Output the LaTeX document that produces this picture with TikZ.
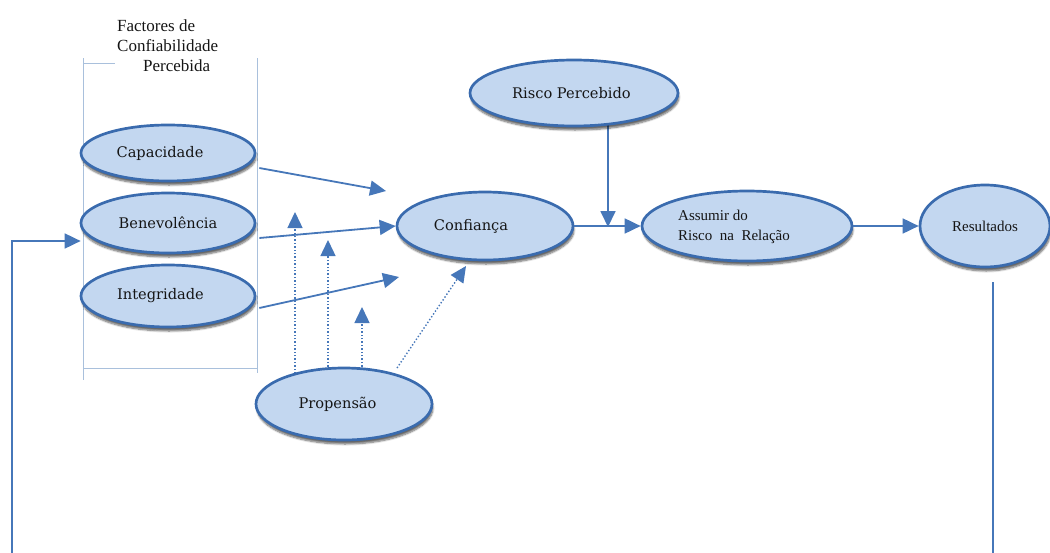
\documentclass[tikz,border=0pt]{standalone}
\usepackage{fontspec}
\setmainfont{Liberation Serif}
\newfontfamily\ellfont{DejaVu Serif}
\usetikzlibrary{arrows.meta,shapes.geometric,shadows.blur,calc,backgrounds}
\definecolor{ellfill}{HTML}{C3D7F0}
\definecolor{elldraw}{HTML}{3A6BAE}
\definecolor{linkblue}{HTML}{4677B9}
\definecolor{framebl}{HTML}{A9C0DC}
\definecolor{ink}{HTML}{151515}

\begin{document}
\begin{tikzpicture}[x=1pt,y=-1pt,
  ell/.style={ellipse, draw=elldraw, line width=2.7pt, fill=ellfill, inner sep=0pt,
    text=ink, font=\ellfont\fontsize{14.6}{17}\selectfont,
    blur shadow={shadow xshift=1pt, shadow yshift=-4pt, shadow opacity=60, shadow blur steps=7}},
  smallell/.style={ell, font=\fontsize{15}{20}\selectfont},
  link/.style={draw=linkblue, line width=1.8pt, -{Triangle[length=16pt,width=15pt]}},
  plainlink/.style={draw=linkblue, line width=1.8pt},
  dotlink/.style={draw=linkblue, line width=1.4pt, dotted, -{Triangle[length=16pt,width=15pt]}},
  frameline/.style={draw=framebl, line width=0.8pt},
  caption/.style={anchor=base west, inner sep=0pt, text=ink, font=\fontsize{17}{20}\selectfont}]

\useasboundingbox (0,0) rectangle (1050,552);
\clip (0,0) rectangle (1050,552);

% heading over the group of perceived trustworthiness factors
\node[caption] (h1) at (117,31) {Factores de};
\node[caption] (h2) at (117,51) {Confiabilidade};
\node[caption] (h3) at (143,71) {Percebida};

% bracket framing the three factors
\draw[frameline] (83,58) -- (83,380);
\draw[frameline] (257,58) -- (257,373);
\draw[frameline] (83,63) -- (115,63);
\draw[frameline] (83,368) -- (257,368);

% constructs
\node[ell, minimum width=174pt, minimum height=56pt] (cap) at (168,153) {\hspace*{-16pt}Capacidade};
\node[ell, minimum width=174pt, minimum height=60pt] (ben) at (168,223) {Benevolência};
\node[ell, minimum width=174pt, minimum height=62pt] (int) at (168,296) {\hspace*{-15pt}Integridade};
\node[ell, minimum width=176pt, minimum height=68pt] (conf) at (485,226) {\hspace*{-28pt}Confiança};
\node[ell, minimum width=208pt, minimum height=66pt] (risk) at (574,93) {\hspace*{-5pt}Risco Percebido};
\node[smallell, minimum width=210pt, minimum height=70pt] (assume) at (747,226)
  {\hspace*{-26pt}\begin{tabular}{@{}l@{}}Assumir do\\Risco~~na~~Relação\end{tabular}};
\node[smallell, minimum width=130pt, minimum height=82pt] (res) at (985,226) {Resultados};
\node[ell, minimum width=176pt, minimum height=72pt] (prop) at (344,404) {\hspace*{-13pt}Propensão};

% free ends of the connectors
\coordinate (tcap) at (386,191);
\coordinate (tint) at (399,277);
\coordinate (trisk) at (608,227);
\coordinate (d1) at (295,212);
\coordinate (d2) at (328,240);
\coordinate (d3) at (362,307);
\coordinate (d4) at (466,266);
\coordinate (fbR) at (993,560);
\coordinate (fbL) at (12,560);

% solid influences
\draw[link] ($(cap.east)+(3,15)$) -- (tcap);
\draw[link] ($(ben.east)+(3,15)$) -- (conf.west);
\draw[link] ($(int.east)+(3,12)$) -- (tint);
\draw[link] (conf.east) -- (assume.west);
\draw[link] (assume.east) -- (res.west);

% feedback loop from the outcomes back to the factors
\draw[plainlink] ($(res.south)+(8,14)$) -- (fbR);
\draw[link] (fbL) |- ($(ben.west)+(1,18)$);

\begin{scope}[on background layer]
  % perceived risk moderating the step into risk taking
  \draw[link] (trisk |- risk.center) -- (trisk);
  % moderating effects of the propensity to trust
  \draw[dotlink] (d1 |- prop.center) -- (d1);
  \draw[dotlink] (d2 |- prop.center) -- (d2);
  \draw[dotlink] (d3 |- prop.center) -- (d3);
  \draw[dotlink] ($(prop.center)+(53,-36)$) -- (d4);
\end{scope}
\end{tikzpicture}
\end{document}
